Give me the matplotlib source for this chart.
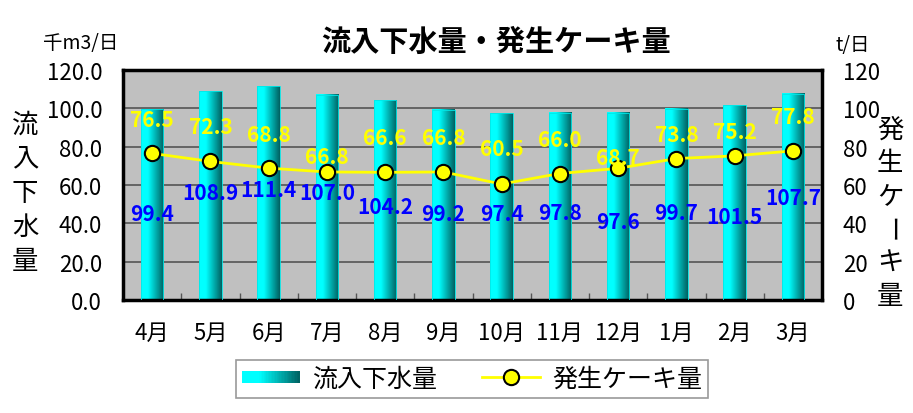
import matplotlib
matplotlib.use('Agg')
import matplotlib.pyplot as plt
import numpy as np
from matplotlib.container import BarContainer
from matplotlib.legend_handler import HandlerBase
from matplotlib.patches import Rectangle

plt.rcParams['font.family'] = ['Noto Sans CJK JP', 'DejaVu Sans']

# data
months = ['4月', '5月', '6月', '7月', '8月', '9月', '10月', '11月', '12月', '1月', '2月', '3月']
inflow = [99.4, 108.9, 111.4, 107.0, 104.2, 99.2, 97.4, 97.8, 97.6, 99.7, 101.5, 107.7]
cake = [76.5, 72.3, 68.8, 66.8, 66.6, 66.8, 60.5, 66.0, 68.7, 73.8, 75.2, 77.8]

# where the data labels sit (left axis units), as placed in the original
inflow_label_y = [44.9, 56.3, 57.9, 56.3, 49.0, 44.9, 44.9, 45.9, 41.2, 45.9, 43.8, 53.7]
cake_label_y = [94.4, 90.3, 86.6, 75.1, 85.0, 85.0, 78.8, 84.0, 74.1, 86.6, 87.7, 95.5]

W, H = 913, 414


def grad_color(t):
    g = np.interp(t, [0, 0.3, 1], [1.0, 1.0, 0.38])
    return (0.0, g, g)


grad_img = np.array([[grad_color(t) for t in np.linspace(0, 1, 64)]])


class GradHandler(HandlerBase):
    def create_artists(self, legend, orig, xd, yd, w, h, fontsize, trans):
        n = 40
        arts = []
        for i in range(n):
            r = Rectangle((-xd + w * i / n, -yd + h * 0.15), w / n * 1.1, h * 0.7,
                          facecolor=grad_color((i + 0.5) / n), edgecolor='none',
                          transform=trans)
            arts.append(r)
        return arts


fig = plt.figure(figsize=(W / 100, H / 100), dpi=100)
ax = fig.add_axes([123 / W, 1 - 301 / H, (822 - 123) / W, (301 - 71) / H])
ax.set_facecolor('#C0C0C0')

x = np.arange(len(months))
bars = ax.bar(x, inflow, width=0.39, color='none', edgecolor='#00E8E8',
              linewidth=0.6, zorder=3)
for r in bars:
    ax.imshow(grad_img, extent=[r.get_x(), r.get_x() + r.get_width(), 0, r.get_height()],
              aspect='auto', interpolation='bilinear', zorder=2.5)

ax.set_xlim(-0.5, 11.5)
ax.set_ylim(0, 120)
ax.set_yticks(np.arange(0, 121, 20))
ax.set_yticklabels([f'{v:.1f}' for v in np.arange(0, 121, 20)])
ax.set_xticks(x)
ax.set_xticklabels(months)
ax.set_xticks(np.arange(0.5, 11, 1), minor=True)
ax.tick_params(axis='x', which='major', length=0, pad=15, labelsize=16)
ax.tick_params(axis='x', which='minor', direction='in', length=5, width=1, color='#555555')
ax.tick_params(axis='y', length=0, pad=15, labelsize=16)
ax.yaxis.grid(True, color='#555555', linewidth=1.2)
ax.set_axisbelow(True)
for s in ax.spines.values():
    s.set_linewidth(2.5)
    s.set_color('black')

ax2 = ax.twinx()
ax2.set_ylim(0, 120)
ax2.set_yticks(np.arange(0, 121, 20))
ax2.tick_params(axis='y', length=0, pad=15, labelsize=16)
for s in ax2.spines.values():
    s.set_visible(False)
line, = ax2.plot(x, cake, color='#FFFF00', linewidth=2, marker='o', markersize=11,
                 markerfacecolor='#FFFF00', markeredgecolor='black', markeredgewidth=1.5,
                 zorder=4)

for xi, v, ly in zip(x, inflow, inflow_label_y):
    ax2.text(xi, ly, f'{v:.1f}', ha='center', va='center', color='#0000FF',
             fontsize=15, fontweight='bold', zorder=6)
for xi, v, ly in zip(x, cake, cake_label_y):
    ax2.text(xi, ly, f'{v:.1f}', ha='center', va='center', color='#FFFF00',
             fontsize=15, fontweight='bold', zorder=6)

fig.text(496 / W, 1 - 42 / H, '流入下水量・発生ケーキ量', ha='center', va='center',
         fontsize=21, fontweight='bold')
fig.text(81 / W, 1 - 43 / H, '千m3/日', ha='center', va='center', fontsize=14)
fig.text(853 / W, 1 - 46 / H, 't/日', ha='center', va='center', fontsize=14)

# vertical axis titles, one character per row
for i, ch in enumerate('流入下水量'):
    fig.text(25 / W, 1 - (125 + 34.2 * i) / H, ch, ha='center', va='center', fontsize=19)
for i, ch in enumerate('発生ケーキ量'):
    fig.text(890 / W, 1 - (130 + 33.4 * i) / H, ch, ha='center', va='center', fontsize=19,
             rotation=-90 if ch == 'ー' else 0)

leg = fig.legend([bars, line], ['流入下水量', '発生ケーキ量'], ncol=2, loc='center',
                 bbox_to_anchor=(472 / W, 1 - 380 / H), fontsize=18, frameon=True,
                 fancybox=False, edgecolor='#808080', handlelength=2.3,
                 columnspacing=1.8, borderpad=0.25, handletextpad=0.5,
                 handler_map={BarContainer: GradHandler()})
leg.get_frame().set_linewidth(1.2)

fig.savefig('out.png', dpi=100)
